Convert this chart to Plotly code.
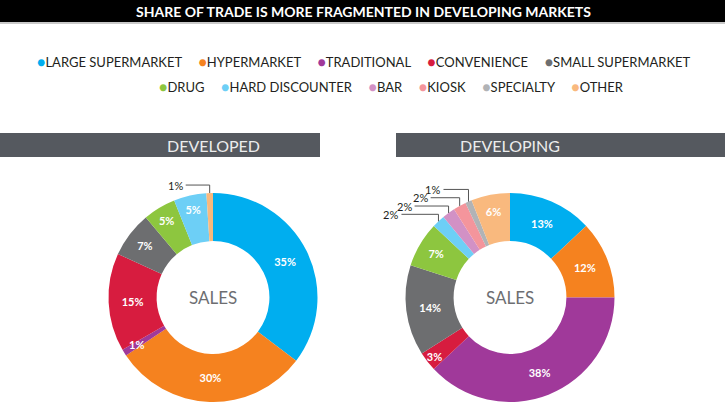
import numpy as np
import plotly.graph_objects as go

W, H = 725, 402

# categories, in legend order
categories = ["LARGE SUPERMARKET", "HYPERMARKET", "TRADITIONAL", "CONVENIENCE",
              "SMALL SUPERMARKET", "DRUG", "HARD DISCOUNTER", "BAR", "KIOSK",
              "SPECIALTY", "OTHER"]
colors = ["#00aeef", "#f5821f", "#a0399a", "#d71c3f", "#6d6e70", "#8dc63f",
          "#6dcff6", "#d291c5", "#f4959c", "#b1b3b6", "#f9b97e"]

# share of sales, clockwise from 12 o'clock
developed_labels = ["LARGE SUPERMARKET", "HYPERMARKET", "TRADITIONAL", "CONVENIENCE",
                    "SMALL SUPERMARKET", "DRUG", "HARD DISCOUNTER", "OTHER"]
developed_values = [35, 30, 1, 15, 7, 5, 5, 1]
developed_outside = ["OTHER"]
developed_thin = ["TRADITIONAL"]  # label sits on the ring, not fitted inside

developing_labels = categories
developing_values = [13, 12, 38, 3, 14, 7, 2, 2, 2, 1, 6]
developing_outside = ["HARD DISCOUNTER", "BAR", "KIOSK", "SPECIALTY"]
developing_thin = []

legend_rows = [categories[:5], categories[5:]]

color_of = dict(zip(categories, colors))


def px(x):
    return x / W


def py(y):
    return 1 - y / H


def note(x, y, text, size, color, weight="normal", xanchor="center"):
    return dict(x=px(x), y=py(y), xref="paper", yref="paper", text=text,
                showarrow=False, xanchor=xanchor, yanchor="middle",
                font=dict(family="Lato", size=size, color=color, weight=weight))


# donut geometry in pixels
R = 104.5
CY = H - R
charts = [
    dict(name="DEVELOPED", cx=213, labels=developed_labels, values=developed_values,
         outside=developed_outside, thin=developed_thin, bar=(0, 320),
         rise=8, step=8.3, lens=[24]),
    dict(name="DEVELOPING", cx=510, labels=developing_labels, values=developing_values,
         outside=developing_outside, thin=developing_thin, bar=(396, W),
         rise=7, step=8.3, lens=[37, 34, 29, 25]),
]

fig = go.Figure()
shapes = []
annotations = []

for c in charts:
    skip = c["outside"] + c["thin"]
    texts = ["" if l in skip else f"{v}%" for l, v in zip(c["labels"], c["values"])]
    fig.add_trace(go.Pie(
        labels=c["labels"], values=c["values"], text=texts, textinfo="text",
        sort=False, direction="clockwise", rotation=0, hole=0.54,
        marker=dict(colors=[color_of[l] for l in c["labels"]], line=dict(width=0)),
        textposition="inside", insidetextorientation="horizontal",
        textfont=dict(family="Lato", size=11, color="white", weight="bold"),
        domain=dict(x=[px(c["cx"] - R), px(c["cx"] + R)], y=[0, 2 * R / H]),
        showlegend=False, hoverinfo="label+value",
    ))

    # section header bar
    x0, x1 = c["bar"]
    shapes.append(dict(type="rect", xref="paper", yref="paper", x0=px(x0), x1=px(x1),
                       y0=py(157), y1=py(133), fillcolor="#55595f", line=dict(width=0)))
    annotations.append(note(c["cx"], 145.5, c["name"], 16, "#eceded"))
    annotations.append(note(c["cx"], CY, "SALES", 17, "#6d6e71"))

    vals = np.array(c["values"], dtype=float)
    mids = (np.cumsum(vals) - vals / 2) / vals.sum() * 2 * np.pi

    # labels of very thin slices, placed on the ring
    for l, v, a in zip(c["labels"], c["values"], mids):
        if l in c["thin"]:
            r = R * 0.86
            annotations.append(note(c["cx"] + r * np.sin(a), CY - r * np.cos(a),
                                    f"{v}%", 11, "white", weight="bold"))

    # leader lines for the thin slices
    k = 0
    ey0 = None
    for l, v, a in zip(c["labels"], c["values"], mids):
        if l not in c["outside"]:
            continue
        ox = c["cx"] + R * np.sin(a)
        oy = CY - R * np.cos(a)
        if ey0 is None:
            ey0 = oy - c["rise"]
        ey = ey0 - c["step"] * k
        ln = c["lens"][k]
        line = dict(color="#555555", width=1)
        shapes.append(dict(type="line", xref="paper", yref="paper",
                           x0=px(ox), y0=py(oy), x1=px(ox), y1=py(ey), line=line))
        shapes.append(dict(type="line", xref="paper", yref="paper",
                           x0=px(ox), y0=py(ey), x1=px(ox - ln), y1=py(ey), line=line))
        annotations.append(note(ox - ln - 1, ey, f"{v}%", 11, "#231f20", xanchor="right"))
        k += 1

# title bar
shapes.append(dict(type="rect", xref="paper", yref="paper", x0=0, x1=1,
                   y0=py(22), y1=1, fillcolor="#000000", line=dict(width=0)))
shapes.append(dict(type="rect", xref="paper", yref="paper", x0=0, x1=1,
                   y0=py(24), y1=py(22), fillcolor="#c9c9c9", line=dict(width=0)))
annotations.append(note(363, 11, "SHARE OF TRADE IS MORE FRAGMENTED IN DEVELOPING MARKETS",
                        14, "white", weight="bold"))

# legend rows
gap = "\u00a0" * 5
for row, (cx, y) in zip(legend_rows, [(364, 62), (391, 87)]):
    parts = [f'<span style="color:{color_of[n]};font-size:14px">\u25cf</span>{n}' for n in row]
    annotations.append(note(cx, y, gap.join(parts), 13, "#231f20"))

fig.update_layout(
    width=W, height=H,
    margin=dict(l=0, r=0, t=0, b=0),
    paper_bgcolor="white", plot_bgcolor="white",
    shapes=shapes, annotations=annotations,
    uniformtext=dict(minsize=11, mode="show"),
)

fig.write_html("out.html", config={"displayModeBar": False},
               post_script="document.body.style.margin='0px';")
